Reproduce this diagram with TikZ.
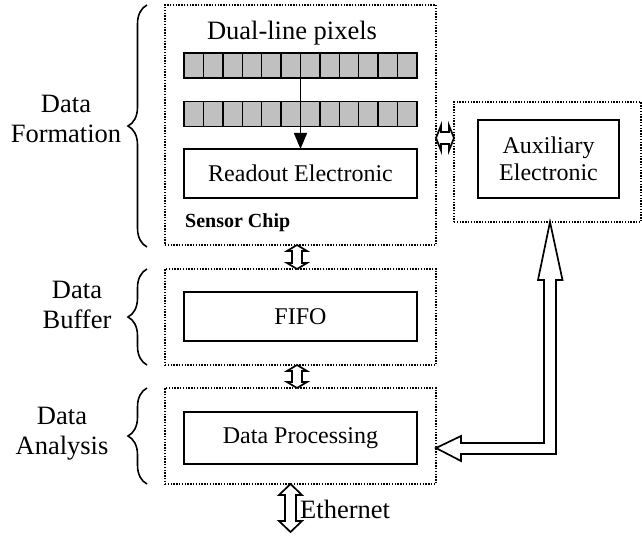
\documentclass[tikz,border=0pt]{standalone}
\usepackage{fontspec}
\setmainfont{Liberation Serif}
\usetikzlibrary{arrows.meta,calc,decorations.pathreplacing}
\definecolor{pixgray}{HTML}{C0C0C0}
\begin{document}
\begin{tikzpicture}[x=1bp,y=-1bp,
  group/.style={draw, line width=1.4bp, dash pattern=on 1.4bp off 1.4bp, inner sep=0, outer sep=0},
  block/.style={draw, line width=1.9bp, inner sep=0, outer sep=0, font=\fontsize{24bp}{27bp}\selectfont, align=center},
  pixrow/.style={draw, line width=1.6bp, fill=pixgray, minimum width=233bp, minimum height=25bp, inner sep=0, outer sep=0},
  hollow/.style={draw, line width=1.7bp, fill=white, line join=miter},
  lbl/.style={font=\fontsize{26.5bp}{30bp}\selectfont, align=center, inner sep=0},
  brc/.style={draw, line width=1.6bp, decorate, decoration={brace, amplitude=19bp}},
]
\useasboundingbox (0,0) rectangle (642,536);

% group boxes
\node[group, minimum width=271bp, minimum height=240bp] (chip) at (300.5,125) {};
\node[group, minimum width=271bp, minimum height=96bp] (buf) at (300.5,317) {};
\node[group, minimum width=271bp, minimum height=96bp] (ana) at (300.5,436) {};
\node[group, minimum width=187bp, minimum height=120bp] (auxo) at (547.5,162) {};

% blocks
\node[block, minimum width=233bp, minimum height=49bp] (readout) at (300.5,173.5) {Readout Electronic};
\node[block, minimum width=233bp, minimum height=49bp] (fifo) at (300.5,316.5) {FIFO};
\node[block, minimum width=233bp, minimum height=52bp] (proc) at (300.5,438) {Data Processing};
\node[block, minimum width=141bp, minimum height=78bp] (auxi) at (548.5,159) {Auxiliary\\Electronic};

% pixel rows
\node[pixrow] (row1) at (300.5,65.5) {};
\node[pixrow] (row2) at (300.5,114) {};
\foreach \i in {1,...,11} {
  \draw[line width=1.4bp] ($(row1.north west)+(\i*19.4167,0)$) -- ++(0,25);
  \draw[line width=1.4bp] ($(row2.north west)+(\i*19.4167,0)$) -- ++(0,25);
}
\draw[line width=1.4bp, -{Triangle[length=16bp,width=13bp]}] (row1.south) -- (readout.north);

% texts
\node[lbl, anchor=base] (tdual) at (292,40) {Dual-line pixels};
\node[anchor=base west, inner sep=0, font=\fontsize{20bp}{24bp}\selectfont\bfseries] (tchip) at (185,228) {Sensor Chip};
\node[lbl, anchor=base west] (teth) at (300,518) {Ethernet};

% braces and side labels
\draw[brc] ([xshift=-18bp,yshift=-2bp]chip.south west) -- ([xshift=-18bp]chip.north west);
\draw[brc] ([xshift=-18bp]buf.south west) -- ([xshift=-18bp]buf.north west);
\draw[brc] ([xshift=-18bp]ana.south west) -- ([xshift=-18bp]ana.north west);
\node[lbl] (lform) at (66,119) {Data\\Formation};
\node[lbl] (lbuf) at (77,305) {Data\\Buffer};
\node[lbl] (lana) at (62,434) {Data\\Analysis};

% hollow double arrows
\draw[hollow] ([xshift=-3.5bp]chip.south) -- ++(10,6) -- ++(-5,0) -- ++(0,12) -- ++(5,0) -- ++(-10,6) -- ++(-10,-6) -- ++(5,0) -- ++(0,-12) -- ++(-5,0) -- cycle;
\draw[hollow] ([xshift=-3.5bp]buf.south) -- ++(10,6) -- ++(-5,0) -- ++(0,11) -- ++(5,0) -- ++(-10,6) -- ++(-10,-6) -- ++(5,0) -- ++(0,-11) -- ++(-5,0) -- cycle;
\draw[hollow] ([xshift=-10bp]ana.south) -- ++(11.5,11) -- ++(-6,0) -- ++(0,26) -- ++(6,0) -- ++(-11.5,11) -- ++(-11.5,-11) -- ++(6,0) -- ++(0,-26) -- ++(-6,0) -- cycle;
\draw[hollow] ([yshift=-13bp]chip.east) -- ++(5,-12.5) -- ++(0,6.5) -- ++(8,0) -- ++(0,-6.5) -- ++(5,12.5) -- ++(-5,12.5) -- ++(0,-6.5) -- ++(-8,0) -- ++(0,6.5) -- cycle;

% L-shaped hollow arrow from processing to auxiliary
\draw[hollow] ([xshift=2.5bp]auxo.south) -- ++(12.5,58) -- ++(-6.5,0) -- ++(0,174) -- ++(-95,0) -- ++(0,7) -- ++(-25,-13) -- ++(25,-12) -- ++(0,7) -- ++(83,0) -- ++(0,-163) -- ++(-6,0) -- cycle;
\end{tikzpicture}
\end{document}
